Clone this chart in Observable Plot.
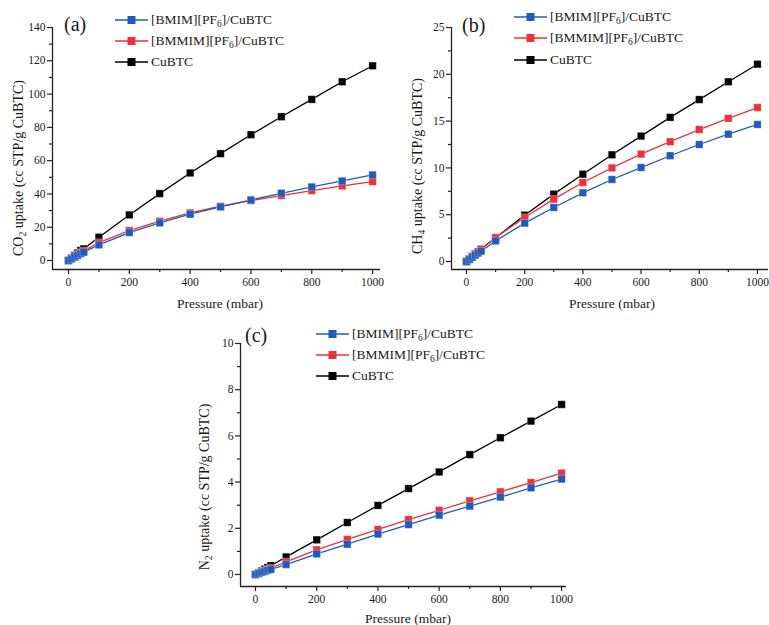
<!DOCTYPE html>
<html>
<head>
<meta charset="utf-8">
<script src="https://cdn.jsdelivr.net/npm/d3@7"></script>
<script src="https://cdn.jsdelivr.net/npm/@observablehq/plot@0.6"></script>
<style>
  html, body { margin: 0; padding: 0; background: #fff; overflow: hidden; }
  #root { position: relative; width: 769px; height: 625px; font-family: "Liberation Serif", "DejaVu Serif", serif; color: #1a1a1a; }
  .panel { position: absolute; }
  .panel svg { position: absolute; left: 0; top: 0; }
  .ylab { position: absolute; font-size: 14px; white-space: nowrap; transform: translate(-50%, -50%) rotate(-90deg); }
  .xlab { position: absolute; font-size: 13.5px; white-space: nowrap; transform: translate(-50%, -50%); }
  .tag { position: absolute; font-size: 20px; transform: translateY(-50%); }
  .leg { position: absolute; display: flex; align-items: center; font-size: 13.5px; white-space: nowrap; transform: translateY(-50%); }
  .leg svg { position: static; margin-right: 2px; }
  sub { font-size: 70%; vertical-align: -0.35em; line-height: 0; }
</style>
</head>
<body>
<div id="root"></div>
<script>
// ---- Data ----
const pressure = [0, 10, 20, 30, 40, 50, 100, 200, 300, 400, 500, 600, 700, 800, 900, 1000];
const seriesNames = ["[BMIM][PF6]/CuBTC", "[BMMIM][PF6]/CuBTC", "CuBTC"];
const seriesColors = ["#1f5bbd", "#ee3038", "#000000"];

const co2_bmim  = [0, 1.0, 2.0, 3.0, 4.0, 5.0, 9.4, 16.8, 22.6, 27.8, 32.2, 36.4, 40.4, 44.2, 47.8, 51.4];
const co2_bmmim = [0, 1.2, 2.4, 3.6, 4.8, 5.8, 10.8, 18.0, 23.6, 28.6, 32.6, 36.0, 39.0, 42.0, 44.8, 47.4];
const co2_cubtc = [0, 1.5, 3.0, 4.5, 6.0, 7.0, 14.0, 27.4, 40.2, 52.6, 64.2, 75.6, 86.4, 96.8, 107.4, 117.0];

const ch4_bmim  = [0, 0.22, 0.45, 0.68, 0.9, 1.1, 2.2, 4.1, 5.77, 7.34, 8.76, 10.04, 11.3, 12.5, 13.6, 14.64];
const ch4_bmmim = [0, 0.27, 0.53, 0.79, 1.05, 1.3, 2.56, 4.7, 6.66, 8.44, 10.0, 11.47, 12.8, 14.1, 15.3, 16.45];
const ch4_cubtc = [0, 0.28, 0.55, 0.8, 1.05, 1.3, 2.53, 4.95, 7.2, 9.33, 11.4, 13.4, 15.4, 17.3, 19.2, 21.08];

const n2_bmim  = [0, 0.04, 0.09, 0.13, 0.18, 0.22, 0.43, 0.89, 1.31, 1.75, 2.16, 2.57, 2.96, 3.35, 3.75, 4.13];
const n2_bmmim = [0, 0.06, 0.11, 0.17, 0.22, 0.28, 0.55, 1.07, 1.52, 1.95, 2.38, 2.78, 3.19, 3.58, 3.98, 4.39];
const n2_cubtc = [0, 0.08, 0.15, 0.23, 0.30, 0.38, 0.76, 1.50, 2.25, 2.99, 3.72, 4.44, 5.19, 5.92, 6.64, 7.36];

const xTicks = [0, 200, 400, 600, 800, 1000];
const xMinor = [100, 300, 500, 700, 900];
const yTicksA = [0, 20, 40, 60, 80, 100, 120, 140];
const yMinorA = [10, 30, 50, 70, 90, 110, 130];
const yTicksB = [0, 5, 10, 15, 20, 25];
const yMinorB = [2.5, 7.5, 12.5, 17.5, 22.5];
const yTicksC = [0, 2, 4, 6, 8, 10];
const yMinorC = [1, 3, 5, 7, 9];

function rows(values) {
  const out = [];
  values.forEach((vals, si) => vals.forEach((v, i) => out.push({p: pressure[i], v, s: seriesNames[si]})));
  return out;
}

const root = document.getElementById("root");
const fmt = d => String(d);

function panel(cfg) {
  const div = document.createElement("div");
  div.className = "panel";
  div.style.left = cfg.left + "px";
  div.style.top = cfg.top + "px";
  div.style.width = cfg.width + "px";
  div.style.height = cfg.height + "px";
  const data = rows(cfg.values);
  const order = [seriesNames[2], seriesNames[1], seriesNames[0]];
  const plot = Plot.plot({
    width: cfg.width,
    height: cfg.height,
    marginLeft: cfg.ml, marginRight: cfg.mr, marginTop: cfg.mt, marginBottom: cfg.mb,
    style: {fontFamily: "Liberation Serif, serif", fontSize: "11.5px", color: "#1a1a1a", background: "transparent", overflow: "visible"},
    x: {domain: cfg.xDomain},
    y: {domain: cfg.yDomain},
    color: {domain: seriesNames, range: seriesColors},
    marks: [
      Plot.ruleX([cfg.xDomain[0]], {stroke: "#222", strokeWidth: 1.3}),
      Plot.ruleY([cfg.yDomain[0]], {stroke: "#222", strokeWidth: 1.3}),
      Plot.axisX({ticks: xTicks, tickSize: 5, tickPadding: 3, tickFormat: fmt, label: null, stroke: "#222", strokeWidth: 1.2}),
      Plot.axisX({ticks: xMinor, tickSize: 3, tickFormat: () => "", label: null, stroke: "#222", strokeWidth: 1.2}),
      Plot.axisY({ticks: cfg.yTicks, tickSize: 5, tickPadding: 2, tickFormat: fmt, label: null, stroke: "#222", strokeWidth: 1.2}),
      Plot.axisY({ticks: cfg.yMinor, tickSize: 3, tickFormat: () => "", label: null, stroke: "#222", strokeWidth: 1.2}),
      ...order.map(name => Plot.line(data.filter(d => d.s === name), {x: "p", y: "v", stroke: "s", strokeWidth: 1.3})),
      ...order.map(name => Plot.dot(data.filter(d => d.s === name), {x: "p", y: "v", fill: "s", symbol: "square", r: 4.2, stroke: "#ffffff", strokeOpacity: 0.45, strokeWidth: 0.6}))
    ]
  });
  div.appendChild(plot);

  const tag = document.createElement("div");
  tag.className = "tag";
  tag.textContent = cfg.tag;
  tag.style.left = cfg.tagX + "px";
  tag.style.top = cfg.tagY + "px";
  div.appendChild(tag);

  const xl = document.createElement("div");
  xl.className = "xlab";
  xl.textContent = "Pressure (mbar)";
  xl.style.left = cfg.xlabX + "px";
  xl.style.top = cfg.xlabY + "px";
  div.appendChild(xl);

  const yl = document.createElement("div");
  yl.className = "ylab";
  yl.innerHTML = cfg.ylab;
  yl.style.left = cfg.ylabX + "px";
  yl.style.top = cfg.ylabY + "px";
  div.appendChild(yl);

  const legendHTML = ["[BMIM][PF<sub>6</sub>]/CuBTC", "[BMMIM][PF<sub>6</sub>]/CuBTC", "CuBTC"];
  legendHTML.forEach((html, i) => {
    const row = document.createElement("div");
    row.className = "leg";
    row.style.left = cfg.legX + "px";
    row.style.top = cfg.legY[i] + "px";
    const c = seriesColors[i];
    row.innerHTML = `<svg width="34" height="12"><line x1="0" x2="33" y1="6" y2="6" stroke="${c}" stroke-width="1.3"/><rect x="12.5" y="2" width="8" height="8" fill="${c}"/></svg><span>${html}</span>`;
    div.appendChild(row);
  });

  root.appendChild(div);
}

panel({
  left: 0, top: 0, width: 390, height: 310,
  ml: 52, mr: 10, mt: 27, mb: 41,
  xDomain: [-52.6, 1026], yDomain: [-5.4, 140],
  yTicks: yTicksA, yMinor: yMinorA,
  values: [co2_bmim, co2_bmmim, co2_cubtc],
  tag: "(a)", tagX: 64, tagY: 24,
  xlabX: 220, xlabY: 304,
  ylab: "CO<sub>2</sub> uptake (cc STP/g CuBTC)", ylabX: 19, ylabY: 168,
  legX: 115, legY: [20, 41, 62]
});

panel({
  left: 390, top: 0, width: 379, height: 310,
  ml: 61, mr: 1, mt: 27, mb: 41,
  xDomain: [-51.5, 1038], yDomain: [-0.854, 25],
  yTicks: yTicksB, yMinor: yMinorB,
  values: [ch4_bmim, ch4_bmmim, ch4_cubtc],
  tag: "(b)", tagX: 72, tagY: 25,
  xlabX: 222, xlabY: 304,
  ylab: "CH<sub>4</sub> uptake (cc STP/g CuBTC)", ylabX: 28, ylabY: 166,
  legX: 124, legY: [17, 38, 60]
});

panel({
  left: 190, top: 310, width: 390, height: 315,
  ml: 50, mr: 14, mt: 33, mb: 39,
  xDomain: [-49, 1016], yDomain: [-0.52, 10],
  yTicks: yTicksC, yMinor: yMinorC,
  values: [n2_bmim, n2_bmmim, n2_cubtc],
  tag: "(c)", tagX: 55, tagY: 25,
  xlabX: 218, xlabY: 309,
  ylab: "N<sub>2</sub> uptake (cc STP/g CuBTC)", ylabX: 15, ylabY: 177,
  legX: 126, legY: [24, 45, 66]
});
</script>
</body>
</html>
